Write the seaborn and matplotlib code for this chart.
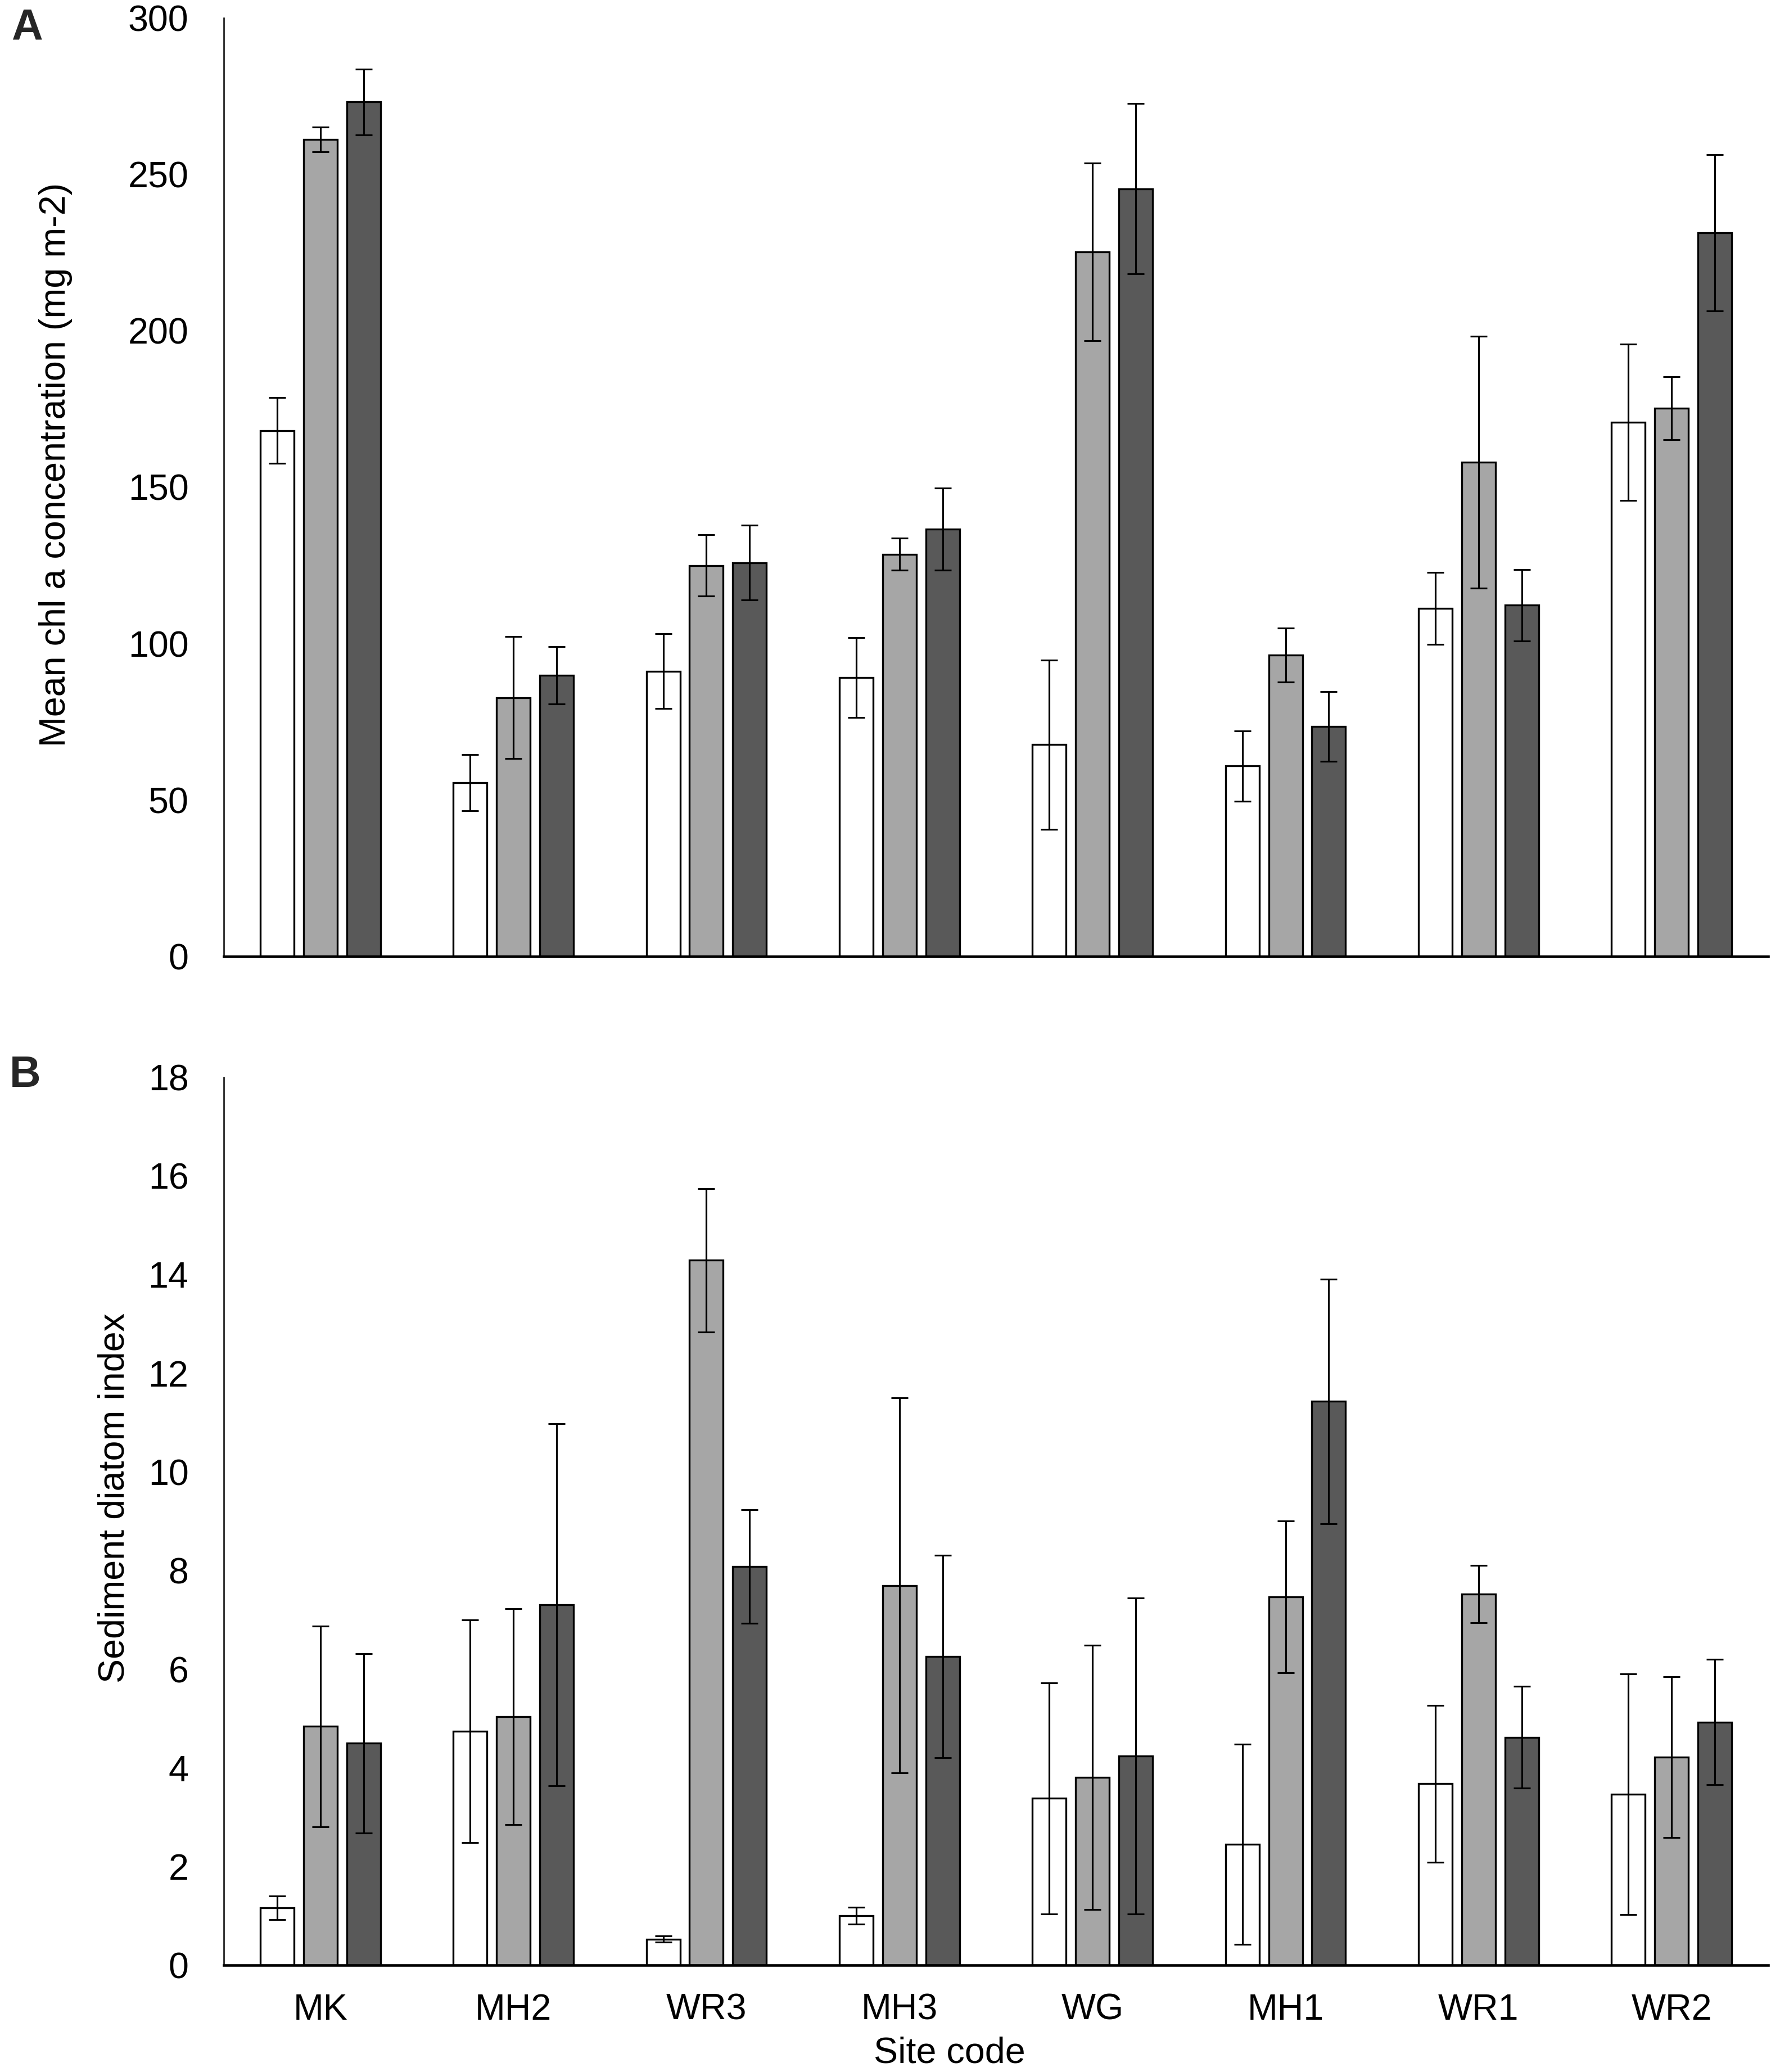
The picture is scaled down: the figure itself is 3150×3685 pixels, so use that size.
import numpy as np
import pandas as pd
import matplotlib
matplotlib.use("Agg")
import matplotlib.pyplot as plt
import seaborn as sns

# ---------------- data ----------------
sites = ["MK", "MH2", "WR3", "MH3", "WG", "MH1", "WR1", "WR2"]
groups = ["Group 1", "Group 2", "Group 3"]
colors = ["#FFFFFF", "#A6A6A6", "#595959"]

# Panel A: mean chl a concentration (mg m-2)
chl_g1 = [168.1, 55.5, 91.2, 89.2, 67.7, 60.9, 111.2, 170.8]
chl_g2 = [261.2, 82.7, 125.0, 128.6, 225.2, 96.3, 158.0, 175.3]
chl_g3 = [273.2, 89.9, 125.9, 136.6, 245.4, 73.5, 112.3, 231.3]
chl_err_g1 = [10.5, 9.0, 12.0, 12.8, 27.0, 11.2, 11.5, 25.0]
chl_err_g2 = [4.0, 19.5, 9.8, 5.2, 28.4, 8.6, 40.2, 10.1]
chl_err_g3 = [10.5, 9.2, 12.0, 13.2, 27.2, 11.2, 11.4, 25.0]

# Panel B: sediment diatom index
sdi_g1 = [1.16, 4.74, 0.53, 1.00, 3.38, 2.45, 3.68, 3.47]
sdi_g2 = [4.84, 5.04, 14.29, 7.70, 3.81, 7.47, 7.52, 4.22]
sdi_g3 = [4.50, 7.31, 8.08, 6.26, 4.24, 11.43, 4.62, 4.93]
sdi_err_g1 = [0.24, 2.26, 0.06, 0.17, 2.34, 2.03, 1.59, 2.44]
sdi_err_g2 = [2.03, 2.19, 1.45, 3.80, 2.68, 1.54, 0.58, 1.63]
sdi_err_g3 = [1.82, 3.67, 1.15, 2.05, 3.20, 2.48, 1.03, 1.27]

chl_ticks = [0, 50, 100, 150, 200, 250, 300]
sdi_ticks = [0, 2, 4, 6, 8, 10, 12, 14, 16, 18]


def long_df(vals, errs):
    rows = []
    for g, v, e in zip(groups, vals, errs):
        for s, vi, ei in zip(sites, v, e):
            rows.append({"site": s, "group": g, "value": vi, "err": ei})
    return pd.DataFrame(rows)


df_a = long_df([chl_g1, chl_g2, chl_g3], [chl_err_g1, chl_err_g2, chl_err_g3])
df_b = long_df([sdi_g1, sdi_g2, sdi_g3], [sdi_err_g1, sdi_err_g2, sdi_err_g3])

# ---------------- style ----------------
sns.set_style("white")
plt.rcParams["font.family"] = ["Liberation Sans", "DejaVu Sans"]

W, H = 3150, 3685
DPI = 300
fig = plt.figure(figsize=(W / DPI, H / DPI), dpi=DPI)

ax_left = 398 / W
ax_w = (3145 - 398) / W
axA = fig.add_axes([ax_left, 1 - 1701 / H, ax_w, (1701 - 32) / H])
axB = fig.add_axes([ax_left, 1 - 3495 / H, ax_w, (3495 - 1916) / H])

TICK_FS = 15.5
LABEL_FS = 15.5


def draw(ax, df, ticks, ylabel):
    sns.barplot(data=df, x="site", y="value", hue="group", order=sites,
                hue_order=groups, palette=colors, width=0.672, gap=0.22,
                edgecolor="black", linewidth=0.8, errorbar=None,
                legend=False, ax=ax, zorder=2)
    for cont, g in zip(ax.containers, groups):
        sub = df[df["group"] == g].set_index("site").loc[sites]
        xs = [p.get_x() + p.get_width() / 2 for p in cont.patches]
        ys = [p.get_height() for p in cont.patches]
        ax.errorbar(xs, ys, yerr=sub["err"].values, fmt="none",
                    ecolor="black", elinewidth=0.75, capsize=3.6,
                    capthick=0.75, zorder=3)
    ax.set_ylim(ticks[0], ticks[-1])
    ax.set_yticks(ticks)
    ax.set_xlim(-0.5, len(sites) - 0.5)
    for side in ["top", "right"]:
        ax.spines[side].set_visible(False)
    ax.spines["left"].set_linewidth(0.6)
    ax.spines["left"].set_color("black")
    ax.spines["bottom"].set_linewidth(1.1)
    ax.spines["bottom"].set_color("black")
    ax.tick_params(axis="y", length=0, pad=15, labelsize=TICK_FS, colors="black")
    ax.tick_params(axis="x", length=0, pad=12, labelsize=TICK_FS)
    ax.set_ylabel(ylabel, fontsize=LABEL_FS, color="black")
    ax.grid(False)


draw(axA, df_a, chl_ticks, "Mean chl a concentration (mg m-2)")
draw(axB, df_b, sdi_ticks, "Sediment diatom index")

axA.set_xlabel("")
axA.tick_params(axis="x", labelcolor="white")
axB.set_xlabel("Site code", fontsize=LABEL_FS, color="black")
axB.tick_params(axis="x", labelcolor="black")

axA.yaxis.set_label_coords(-0.098, 0.524)
axB.yaxis.set_label_coords(-0.060, 0.526)
axB.xaxis.set_label_coords(0.470, -0.080)

fig.text(20 / W, 1 - 71 / H, "A", fontsize=18.5, fontweight="bold",
         ha="left", va="baseline")
fig.text(17 / W, 1 - 1933 / H, "B", fontsize=18.5, fontweight="bold",
         ha="left", va="baseline")

fig.savefig("out.png", dpi=DPI, facecolor="white")
